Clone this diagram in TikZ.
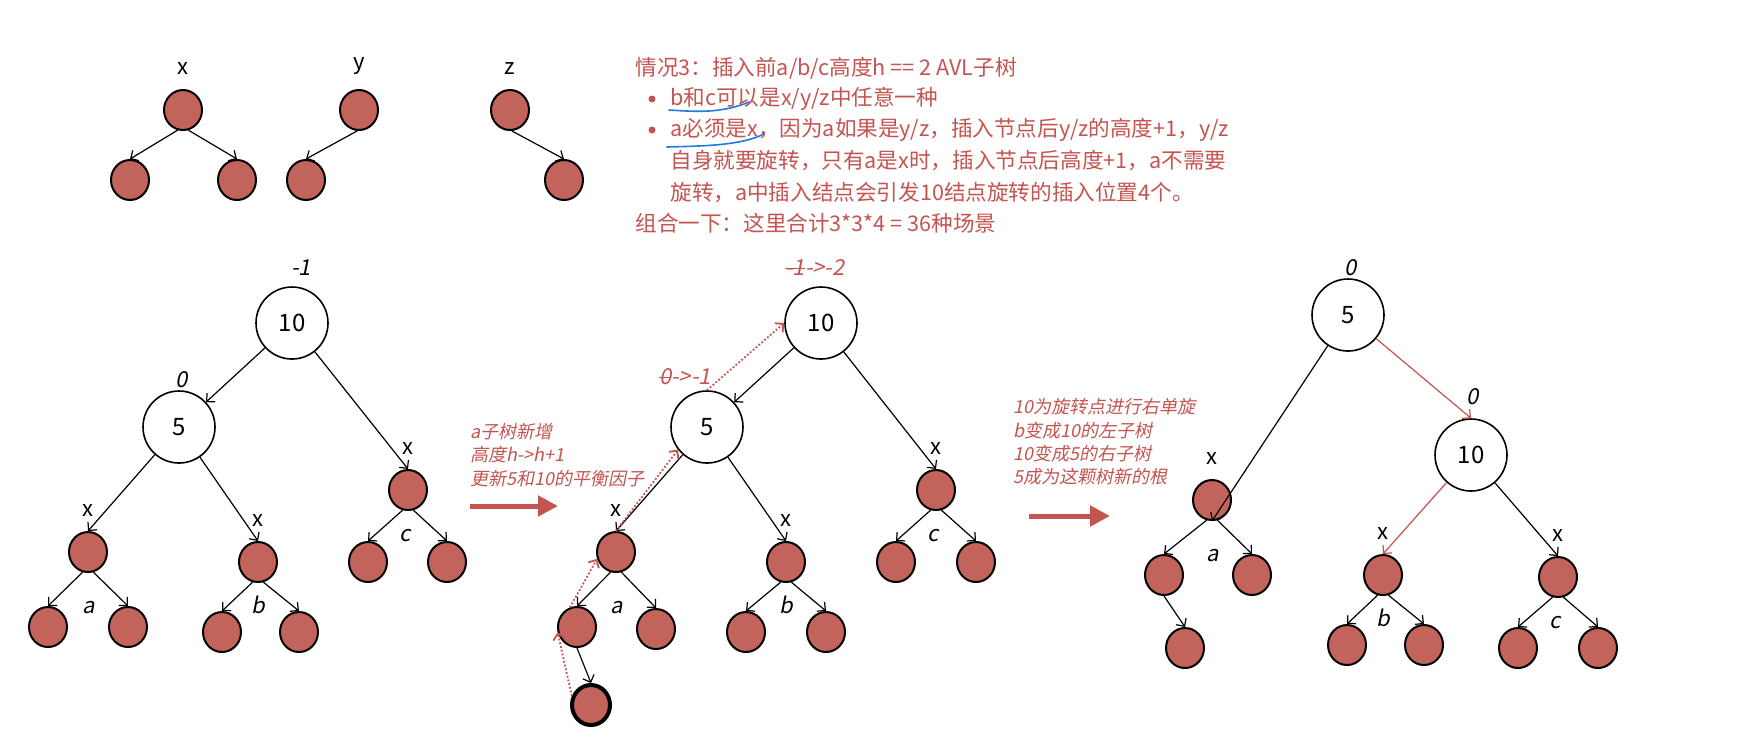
\documentclass[tikz,border=0pt]{standalone}
\usepackage{fontspec}
\setmainfont{Noto Sans CJK SC}
\newfontfamily\slantfont[FakeSlant=0.2]{Noto Sans CJK SC}
\usepackage{xcolor}
\usetikzlibrary{arrows.meta,positioning,shapes.geometric}
\definecolor{nodered}{RGB}{194,99,92}
\definecolor{notered}{RGB}{196,84,80}
\definecolor{penblue}{RGB}{35,120,225}
\newcommand{\strikeout}[1]{\setbox0\hbox{#1}\rlap{\rule[0.3em]{\wd0}{0.07em}}\box0}

\begin{document}
\begin{tikzpicture}[x=0.5pt, y=-0.5pt,
  bignode/.style={draw, circle, line width=0.8pt, minimum size=36pt, inner sep=0pt, font=\fontsize{12}{14}\selectfont},
  leaf/.style={draw, ellipse, fill=nodered, line width=1pt, minimum width=19pt, minimum height=20pt, inner sep=0pt},
  newleaf/.style={leaf, line width=2pt},
  edge/.style={-{Straight Barb[length=3pt,width=6pt]}, line width=0.6pt},
  rededge/.style={edge, notered},
  trail/.style={-{Straight Barb[length=3pt,width=6pt]}, densely dotted, line width=0.9pt, notered},
  tag/.style={font=\fontsize{11}{13}\selectfont, inner sep=1pt},
  bal/.style={font=\slantfont\fontsize{11}{13}\selectfont, inner sep=1pt},
  baln/.style={bal, text=notered},
  note/.style={text=notered, font=\slantfont\fontsize{9}{11.7}\selectfont, align=left, anchor=west, inner sep=0pt},
  txt/.style={text=notered, font=\fontsize{10.8}{13}\selectfont, anchor=west, inner sep=0pt},
  dot/.style={circle, fill=notered, inner sep=0pt, minimum size=3.5pt},
  pen/.style={penblue, line width=0.8pt, line cap=round},
  bigarr/.style={-{Triangle[length=10pt,width=10pt]}, line width=2.5pt, notered}
]
\useasboundingbox (0,0) rectangle (1750,736);

% x / y / z shapes
\node[leaf] (tx) at (183,110) {};
\node[leaf] (txl) at (130,180) {};
\node[leaf] (txr) at (237,180) {};
\node[leaf] (ty) at (359,110) {};
\node[leaf] (tyl) at (306,180) {};
\node[leaf] (tz) at (510,110) {};
\node[leaf] (tzr) at (564,180) {};
\node[tag, above=6pt of tx] {x};
\node[tag, above=6pt of ty] {y};
\node[tag, above=6pt of tz] {z};
\draw[edge] (tx.255) -- (txl.north);
\draw[edge] (tx.285) -- (txr.north);
\draw[edge] (ty.265) -- (tyl.north);
\draw[edge] (tz.275) -- (tzr.north);

% Case text
\node[txt] (t1) at (635,68) {情况3：插入前a/b/c高度h == 2 AVL子树};
\node[dot] (bul1) at (652,99) {};
\node[txt] (t2) at (670,99) {b和c可以是x/y/z中任意一种};
\node[dot] (bul2) at (652,130) {};
\node[txt] (t3) at (670,130) {a必须是x，因为a如果是y/z，插入节点后y/z的高度+1，y/z};
\node[txt] (t4) at (670,161) {自身就要旋转，只有a是x时，插入节点后高度+1，a不需要};
\node[txt] (t5) at (670,192) {旋转，a中插入结点会引发10结点旋转的插入位置4个。};
\node[txt] (t6) at (635,223) {组合一下：这里合计3*3*4 = 36种场景};
\draw[pen] (669,110) .. controls (700,112) and (722,113) .. (749,102);
\draw[pen] (667,147) .. controls (700,146) and (740,146) .. (764,134);

% Tree before insertion
\node[bignode] (l10) at (292,323) {10};
\node[bignode] (l5) at (179,427) {5};
\node[leaf] (lar) at (88,552) {};
\node[leaf] (lal) at (48,627) {};
\node[leaf] (larr) at (128,627) {};
\node[leaf] (lbr) at (258,562) {};
\node[leaf] (lbl) at (222,632) {};
\node[leaf] (lbrr) at (299,632) {};
\node[leaf] (lcr) at (408,490) {};
\node[leaf] (lcl) at (368,562) {};
\node[leaf] (lcrr) at (447,562) {};
\node[bal] at (301,268) {-1};
\node[bal] at (182,380) {0};
\node[tag, above=6pt of lar] {x};
\node[tag, above=6pt of lbr] {x};
\node[tag, above=6pt of lcr] {x};
\node[bal] at (89,607) {a};
\node[bal] at (258,605) {b};
\node[bal] at (405,535) {c};
\draw[edge] (l10) -- (l5);
\draw[edge] (l10) -- (lcr.north);
\draw[edge] (l5) -- (lar.north);
\draw[edge] (l5) -- (lbr.north);
\draw[edge] (lar.255) -- (lal.north);
\draw[edge] (lar.285) -- (larr.north);
\draw[edge] (lbr.255) -- (lbl.north);
\draw[edge] (lbr.285) -- (lbrr.north);
\draw[edge] (lcr.255) -- (lcl.north);
\draw[edge] (lcr.285) -- (lcrr.north);

% Step 1
\node[note] (n1) at (470,455) {a子树新增\\高度h->h+1\\更新5和10的平衡因子};
\coordinate (g1s) at (470,506);
\coordinate (g1e) at (558,506);
\draw[bigarr] (g1s) -- (g1e);

% Tree after insertion
\node[bignode] (m10) at (821,323) {10};
\node[bignode] (m5) at (707,427) {5};
\node[leaf] (mar) at (616,552) {};
\node[leaf] (mal) at (577,627) {};
\node[leaf] (marr) at (656,629) {};
\node[newleaf] (mnew) at (591,705) {};
\node[leaf] (mbr) at (786,562) {};
\node[leaf] (mbl) at (746,632) {};
\node[leaf] (mbrr) at (826,632) {};
\node[leaf] (mcr) at (936,490) {};
\node[leaf] (mcl) at (896,562) {};
\node[leaf] (mcrr) at (976,562) {};
\node[baln] (m10bf) at (815,268) {\strikeout{-1}->-2};
\node[baln] (m5bf) at (685,377) {\strikeout{0}->-1};
\node[tag, above=6pt of mar] {x};
\node[tag, above=6pt of mbr] {x};
\node[tag, above=6pt of mcr] {x};
\node[bal] at (617,607) {a};
\node[bal] at (786,605) {b};
\node[bal] at (933,535) {c};
\draw[edge] (m10) -- (m5);
\draw[edge] (m10) -- (mcr.north);
\draw[edge] (m5) -- (mar.north);
\draw[edge] (m5) -- (mbr.north);
\draw[edge] (mar.255) -- (mal.north);
\draw[edge] (mar.285) -- (marr.north);
\draw[edge] (mal.south) -- (mnew.north);
\draw[edge] (mbr.255) -- (mbl.north);
\draw[edge] (mbr.285) -- (mbrr.north);
\draw[edge] (mcr.255) -- (mcl.north);
\draw[edge] (mcr.285) -- (mcrr.north);
% height update path
\draw[trail] (mnew.155) -- (mal.195);
\draw[trail] (mal.110) -- (mar.200);
\draw[trail] (mar.north) -- (m5.218);
\draw[trail] (m5.north) -- (m10.west);

% Step 2
\node[note] (n2) at (1013,442) {10为旋转点进行右单旋\\b变成10的左子树\\10变成5的右子树\\5成为这颗树新的根};
\coordinate (g2s) at (1029,516);
\coordinate (g2e) at (1110,516);
\draw[bigarr] (g2s) -- (g2e);

% Tree after right rotation
\node[bignode] (r5) at (1348,315) {5};
\node[bignode] (r10) at (1471,455) {10};
\node[leaf] (ra) at (1212,500) {};
\node[leaf] (ral) at (1164,575) {};
\node[leaf] (rarr) at (1252,575) {};
\node[leaf] (rag) at (1185,648) {};
\node[leaf] (rb) at (1383,575) {};
\node[leaf] (rbl) at (1347,645) {};
\node[leaf] (rbr) at (1424,645) {};
\node[leaf] (rc) at (1558,577) {};
\node[leaf] (rcl) at (1518,648) {};
\node[leaf] (rcr) at (1598,648) {};
\node[bal] at (1351,268) {0};
\node[bal] at (1473,397) {0};
\node[tag, above=6pt of ra] {x};
\node[tag, above=6pt of rb] {x};
\node[tag, above=6pt of rc] {x};
\node[bal] at (1213,555) {a};
\node[bal] at (1383,618) {b};
\node[bal] at (1555,622) {c};
\draw[edge] (r5) -- (ra.south);
\draw[rededge] (r5) -- (r10.north);
\draw[rededge] (r10) -- (rb.north);
\draw[edge] (r10) -- (rc.north);
\draw[edge] (ra.255) -- (ral.north);
\draw[edge] (ra.285) -- (rarr.north);
\draw[edge] (ral.south) -- (rag.north);
\draw[edge] (rb.255) -- (rbl.north);
\draw[edge] (rb.285) -- (rbr.north);
\draw[edge] (rc.255) -- (rcl.north);
\draw[edge] (rc.285) -- (rcr.north);

\end{tikzpicture}
\end{document}
